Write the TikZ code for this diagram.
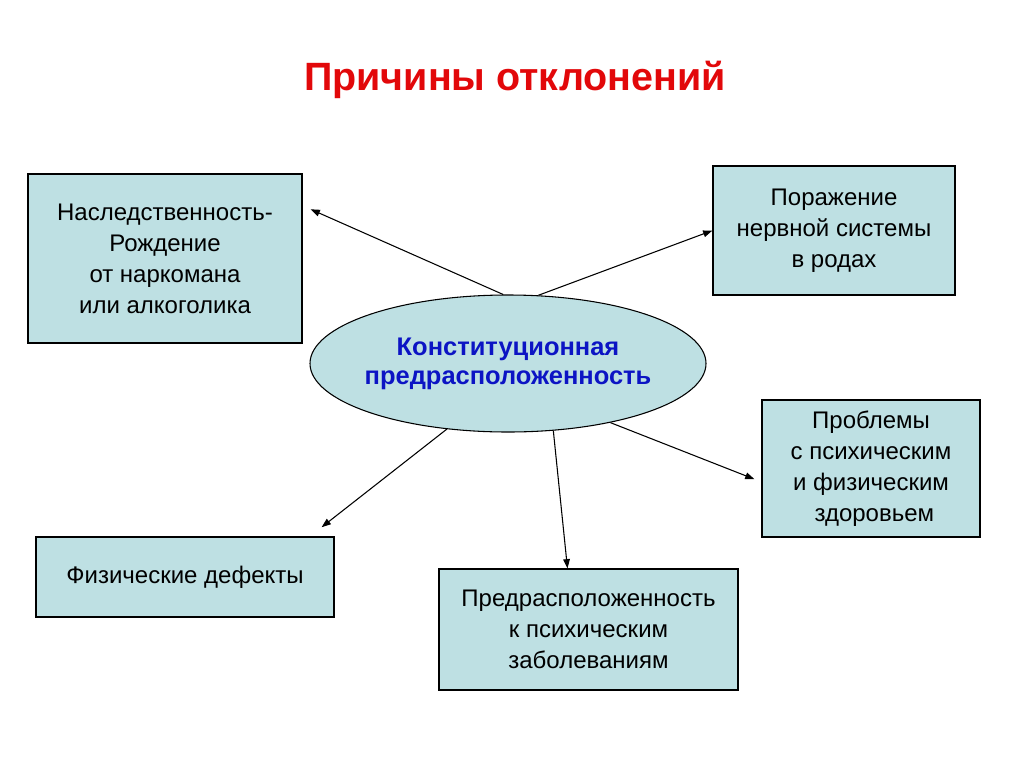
\documentclass[tikz,border=0pt]{standalone}
\usepackage{fontspec}
\setmainfont{Liberation Sans}
\usetikzlibrary{arrows.meta,shapes.geometric}
\definecolor{boxfill}{RGB}{190,224,227}
\definecolor{titlered}{RGB}{226,8,10}
\definecolor{coreblue}{RGB}{12,20,196}

\begin{document}
\begin{tikzpicture}[x=0.75pt,y=-0.75pt,
  cause/.style={draw=black,line width=0.8pt,fill=boxfill,align=center,inner sep=0pt,font=\fontsize{18}{23.25}\selectfont},
  link/.style={line width=0.8pt,-{Triangle[length=7pt,width=5pt]}}]
  \useasboundingbox (0,0) rectangle (1024,768);
  \node[font=\fontsize{29.6}{34}\selectfont\bfseries,text=titlered] (title) at (515,80) {Причины отклонений};
  \node[ellipse,draw=black,line width=0.8pt,fill=boxfill,inner xsep=-25pt,inner ysep=0pt,minimum width=297pt,minimum height=102.75pt,align=center,text=coreblue,font=\fontsize{19.1}{21.75}\selectfont\bfseries] (core) at (508,363.5) {Конституционная\\предрасположенность};
  \node[cause,minimum width=205.5pt,minimum height=126.75pt] (hered) at (165,258.5) {Наследственность-\\Рождение\\от наркомана\\или алкоголика};
  \node[cause,minimum width=181.5pt,minimum height=96.75pt] (nerv) at (834,230.5) {Поражение\\нервной системы\\в родах};
  \node[cause,minimum width=163.5pt,minimum height=102.75pt] (probl) at (871,468.5) {Проблемы\\с психическим\\и физическим\\\ здоровьем};
  \node[cause,minimum width=223.5pt,minimum height=60pt] (defect) at (185,577) {Физические дефекты};
  \node[cause,minimum width=224.25pt,minimum height=90.75pt] (predisp) at (588.5,629.5) {Предрасположенность\\к психическим\\заболеваниям};

  \draw[link,shorten >=6.6pt] (core.94.2) -- (hered.21.9);
  \draw[link] (core.66.8) -- (nerv.west);
  \draw[link,shorten >=5.6pt] (core.-30.6) -- (probl.187.9);
  \draw[link] (core.-56.6) -- (predisp.109.6);
  \draw[link,shorten >=11.25pt] (core.-133.1) -- (defect.18.3);
\end{tikzpicture}
\end{document}
